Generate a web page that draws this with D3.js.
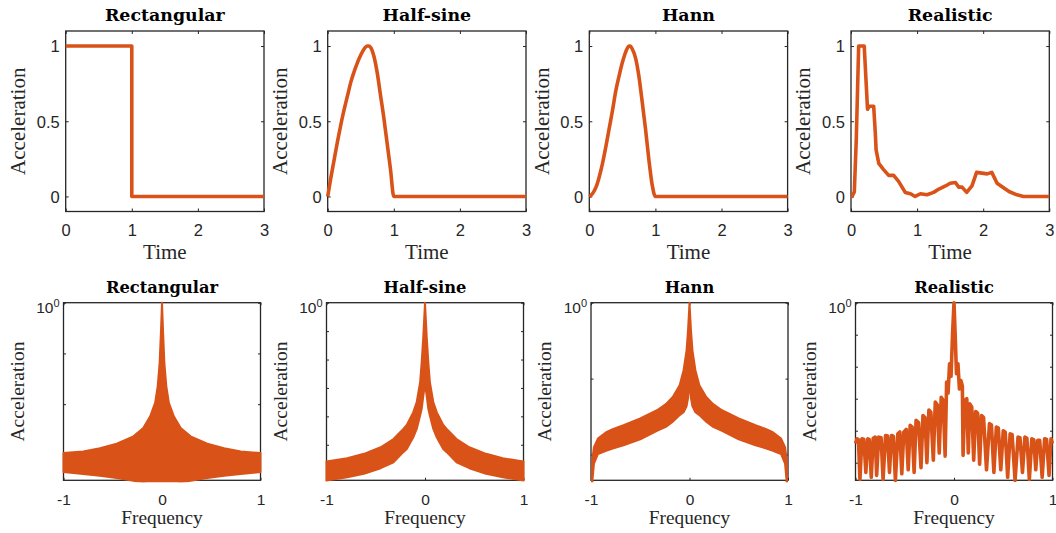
<!DOCTYPE html>
<html><head><meta charset="utf-8">
<script src="https://cdn.jsdelivr.net/npm/d3@7"></script>
<style>body{margin:0;background:#fff} svg{display:block}</style>
</head><body><svg id="c" width="1056" height="533"></svg>
<script>
// ---------------- data ----------------
const titles = ["Rectangular", "Half-sine", "Hann", "Realistic"];
const timeTicks = [0, 1, 2, 3];
const accTicks = [0, 0.5, 1];
const freqTicks = [-1, 0, 1];
const logTopLabel = ["10", "0"];
const timeLabel = "Time", freqLabel = "Frequency", accLabel = "Acceleration";

// time-domain pulses
const rectT = [0, 1, 1, 3];
const rectA = [1, 1, 0, 0];
const halfT = [0,0.05,0.1,0.15,0.2,0.25,0.3,0.35,0.4,0.45,0.5,0.55,0.6,0.62,0.65,0.7,0.75,0.8,0.85,0.9,0.95,1.0,3.0];
const halfA = [0,0.13,0.25,0.37,0.48,0.58,0.67,0.76,0.83,0.89,0.94,0.98,1.0,1.0,0.99,0.93,0.82,0.67,0.52,0.35,0.18,0,0];
const hannT = [0,0.05,0.1,0.15,0.2,0.25,0.3,0.35,0.4,0.45,0.5,0.55,0.6,0.62,0.65,0.7,0.75,0.8,0.85,0.9,0.95,1.0,3.0];
const hannA = [0,0.02,0.06,0.13,0.22,0.33,0.45,0.57,0.7,0.8,0.89,0.96,1.0,1.0,0.98,0.92,0.8,0.63,0.45,0.25,0.08,0,0];
const realT = [0,0.015,0.05,0.08,0.116,0.2,0.25,0.277,0.343,0.368,0.38,0.42,0.49,0.57,0.645,0.72,0.82,0.9,0.97,1.05,1.15,1.25,1.33,1.43,1.5,1.58,1.63,1.68,1.75,1.83,1.9,1.98,2.06,2.13,2.21,2.28,2.39,2.51,2.61,3.0];
const realA = [0,0,0.03,0.38,1.0,1.0,0.58,0.6,0.6,0.42,0.31,0.22,0.18,0.14,0.14,0.1,0.027,0.018,0,0.018,0.011,0.027,0.049,0.07,0.088,0.093,0.062,0.062,0.027,0.07,0.16,0.155,0.15,0.16,0.088,0.066,0.033,0.011,0,0];

// spectra: lower log limit (decades below 10^0)
const specDecades = [3.5, 6.25, 2.34, 5.55];

// Rectangular spectrum envelope (dense oscillation band)
const rectF  = [-1,-0.8,-0.63,-0.46,-0.29,-0.19,-0.12,-0.07,-0.044,-0.024,-0.01,0,0.01,0.024,0.044,0.07,0.12,0.19,0.29,0.46,0.63,0.8,1];
const rectUp = [1.09e-3,1.17e-3,1.36e-3,1.66e-3,2.32e-3,3.39e-3,5.75e-3,1.06e-2,2.25e-2,6.5e-2,0.297,1,0.297,6.5e-2,2.25e-2,1.06e-2,5.75e-3,3.39e-3,2.32e-3,1.66e-3,1.36e-3,1.17e-3,1.09e-3];
const rectLo = [4.6e-4,4.2e-4,3.9e-4,3.5e-4,3.1e-4,2.8e-4,2.6e-4,2.5e-4,2.5e-4,2.5e-4,2.5e-4,2.5e-4,2.5e-4,2.5e-4,2.5e-4,2.5e-4,2.6e-4,2.8e-4,3.1e-4,3.5e-4,3.9e-4,4.2e-4,4.6e-4];

// Half-sine spectrum envelope
const halfF  = [-1,-0.79,-0.62,-0.45,-0.32,-0.22,-0.185,-0.12,-0.084,-0.05,-0.034,-0.017,0,0.017,0.034,0.05,0.084,0.12,0.185,0.22,0.32,0.45,0.62,0.79,1];
const halfUp = [2.57e-6,3.36e-6,4.8e-6,8.2e-6,1.6e-5,3.6e-5,5.0e-5,1.38e-4,3.2e-4,1.56e-3,7.85e-3,0.0676,1,0.0676,7.85e-3,1.56e-3,3.2e-4,1.38e-4,5.0e-5,3.6e-5,1.6e-5,8.2e-6,4.8e-6,3.36e-6,2.57e-6];
const halfLo = [5.5e-7,7.2e-7,9.5e-7,1.5e-6,2.43e-6,5.5e-6,7.1e-6,1.8e-5,3.6e-5,1.05e-4,1.8e-4,5.3e-4,1.36e-3,5.3e-4,1.8e-4,1.05e-4,3.6e-5,1.8e-5,7.1e-6,5.5e-6,2.43e-6,1.5e-6,9.5e-7,7.2e-7,5.5e-7];

// Hann spectrum envelope
const hannF  = [-1,-0.985,-0.97,-0.93,-0.84,-0.78,-0.67,-0.5,-0.33,-0.24,-0.17,-0.1,-0.06,-0.03,-0.015,0,0.015,0.03,0.06,0.1,0.17,0.24,0.33,0.5,0.67,0.78,0.84,0.93,0.97,0.985,1];
const hannUp = [0.001,0.009,0.0125,0.0162,0.0199,0.0215,0.0243,0.0298,0.0383,0.046,0.0574,0.0817,0.129,0.236,0.432,1,0.432,0.236,0.129,0.0817,0.0574,0.046,0.0383,0.0298,0.0243,0.0215,0.0199,0.0162,0.0125,0.009,0.001];
const hannLo = [0.001,0.0046,0.0076,0.0101,0.0113,0.012,0.0132,0.0158,0.0205,0.0231,0.027,0.033,0.036,0.043,0.055,0.095,0.055,0.043,0.036,0.033,0.027,0.0231,0.0205,0.0158,0.0132,0.012,0.0113,0.0101,0.0076,0.0046,0.001];

// Realistic spectrum (peaks and troughs of the jagged trace)
const realF = [-1.0,-0.985,-0.97,-0.955,-0.935,-0.915,-0.895,-0.875,-0.86,-0.84,-0.82,-0.8,-0.785,-0.765,-0.74,-0.72,-0.695,-0.675,-0.655,-0.635,-0.615,-0.595,-0.57,-0.55,-0.53,-0.51,-0.485,-0.465,-0.445,-0.425,-0.405,-0.385,-0.36,-0.335,-0.315,-0.295,-0.275,-0.255,-0.235,-0.21,-0.19,-0.17,-0.15,-0.13,-0.11,-0.09,-0.075,-0.06,-0.045,-0.03,-0.015,0,
  0.012,0.025,0.04,0.055,0.07,0.085,0.092,0.11,0.13,0.145,0.16,0.18,0.2,0.22,0.24,0.26,0.28,0.3,0.33,0.36,0.38,0.405,0.43,0.45,0.475,0.5,0.52,0.545,0.57,0.59,0.62,0.65,0.67,0.695,0.72,0.74,0.765,0.79,0.81,0.83,0.85,0.87,0.895,0.92,0.94,0.965,0.985,1.0];
const realS = [4e-5,5.6e-5,5.2e-5,3e-6,5.6e-5,5.3e-5,5e-6,5.6e-5,5.3e-5,3.5e-6,5.8e-5,6.3e-5,4e-6,6.3e-5,6e-5,3e-6,7.1e-5,6.8e-5,5e-6,7.1e-5,6.6e-5,2.8e-6,8e-5,9.1e-5,4.5e-6,9e-5,1.1e-4,6e-6,1.47e-4,1.3e-4,5e-6,2.1e-4,1.8e-4,7e-6,3.0e-4,2.6e-4,1e-5,4.4e-4,3.8e-4,1.2e-5,7.9e-4,6.5e-4,2e-5,1.1e-3,9e-4,1.6e-5,3.3e-3,1.5e-3,0.0124,0.005,0.1,1,
  0.1,0.006,0.0124,0.002,3.7e-3,2.5e-3,1.7e-5,9e-4,1.0e-3,2e-5,6.9e-4,5.5e-4,1.2e-5,4e-4,3.5e-4,9e-6,3e-4,2.6e-4,6e-6,1.66e-4,1.5e-4,5e-6,1.3e-4,1.2e-4,6e-6,1.0e-4,9e-5,3.5e-6,8e-5,7.5e-5,2.8e-6,6.3e-5,6e-5,5e-6,6.3e-5,5.8e-5,3e-6,5.6e-5,5.2e-5,6e-6,5e-5,5e-5,3.5e-6,5.6e-5,5.3e-5,4e-6,5.6e-5,4e-5];

// ---------------- drawing ----------------
const svg = d3.select("#c");
const ORANGE = "#D95319", AX = "#262626";
const defs = svg.append("defs");

const topL = [65.7, 327.7, 589.3, 851], topW = 198.3, topTop = 31, topBot = 211.5;
const botL = [63.5, 326.5, 591, 855.5], botW = 197, botTop = 302.7, botBot = 480.3;

function clip(id, x, y, w, h) {
  defs.append("clipPath").attr("id", id).append("rect")
    .attr("x", x - 2).attr("y", y - 2).attr("width", w + 4).attr("height", h + 4);
  return "url(#" + id + ")";
}

function frame(g, x, y, xt, yt, tick, fs, xfmt, yfmt) {
  const [x0, x1] = x.range(), [y1, y0] = y.range();
  const styleAxis = a => {
    a.select(".domain").remove();
    a.selectAll("line").attr("stroke", AX).attr("stroke-width", 1);
    a.selectAll("text").attr("fill", AX).style("font-family", "'Liberation Sans', Arial, sans-serif").style("font-size", fs + "px");
  };
  const b = g.append("g").attr("transform", `translate(0,${y1})`)
    .call(d3.axisBottom(x).tickValues(xt).tickSize(-tick).tickFormat(xfmt));
  styleAxis(b);
  g.append("g").attr("transform", `translate(0,${y0})`)
    .call(d3.axisTop(x).tickValues(xt).tickSize(-tick).tickFormat("")).call(styleAxis);
  const l = g.append("g").attr("transform", `translate(${x0},0)`)
    .call(d3.axisLeft(y).tickValues(yt).tickSize(-tick).tickFormat(yfmt));
  styleAxis(l);
  g.append("g").attr("transform", `translate(${x1},0)`)
    .call(d3.axisRight(y).tickValues(yt).tickSize(-tick).tickFormat("")).call(styleAxis);
  g.append("rect").attr("x", x0).attr("y", y0).attr("width", x1 - x0).attr("height", y1 - y0)
    .attr("fill", "none").attr("stroke", AX).attr("stroke-width", 1.3);
  return {b, l};
}

// ---- top row: time-domain
const series = [[rectT, rectA], [halfT, halfA], [hannT, hannA], [realT, realA]];
const curves = [d3.curveLinear, d3.curveMonotoneX, d3.curveMonotoneX, d3.curveLinear];

series.forEach(([T, A], i) => {
  const g = svg.append("g");
  const x = d3.scaleLinear().domain([0, 3]).range([topL[i], topL[i] + topW]);
  const y = d3.scaleLinear().domain([-0.1, 1.1]).range([topBot, topTop]);
  const {b, l} = frame(g, x, y, timeTicks, accTicks, 3, 16.5, d => String(d), d => String(d));
  b.selectAll("text").attr("y", 24.2).attr("dy", null);
  l.selectAll("text").attr("x", -6).attr("dy", "0.36em");
  const line = d3.line().x((d, k) => x(T[k])).y(d => y(d)).curve(curves[i]);
  g.append("path").datum(A).attr("d", line).attr("fill", "none").attr("stroke", ORANGE)
    .attr("stroke-width", 3.6).attr("stroke-linejoin", "round")
    .attr("clip-path", clip("ct" + i, topL[i], topTop, topW, topBot - topTop));
  const cx = topL[i] + topW / 2;
  g.append("text").attr("x", cx).attr("y", 21).attr("text-anchor", "middle")
    .style("font-family", "'DejaVu Serif', serif").style("font-weight", "bold").style("font-size", "17.4px")
    .attr("fill", "#000").text(titles[i]);
  g.append("text").attr("x", cx).attr("y", 259.3).attr("text-anchor", "middle")
    .style("font-family", "'Liberation Serif', 'Times New Roman', serif").style("font-size", "21px")
    .attr("fill", AX).text(timeLabel);
  g.append("text").attr("transform", `translate(${topL[i] - 40.7},${(topTop + topBot) / 2}) rotate(-90)`)
    .attr("text-anchor", "middle")
    .style("font-family", "'Liberation Serif', 'Times New Roman', serif").style("font-size", "21px")
    .attr("fill", AX).text(accLabel);
});

// ---- bottom row: spectra
const bands = [[rectF, rectUp, rectLo], [halfF, halfUp, halfLo], [hannF, hannUp, hannLo]];

titles.forEach((t, i) => {
  const g = svg.append("g");
  const x = d3.scaleLinear().domain([-1, 1]).range([botL[i], botL[i] + botW]);
  const y = d3.scaleLog().domain([Math.pow(10, -specDecades[i]), 1]).range([botBot, botTop]);
  const decTicks = d3.range(0, -Math.floor(specDecades[i]) - 1, -1).map(e => Math.pow(10, e));
  const {b, l} = frame(g, x, y, freqTicks, decTicks, 2.5, 15.5, d => String(d), () => "");
  b.selectAll("text").attr("y", 24.7).attr("dy", null);
  const lab = g.append("text").attr("x", botL[i] - 4).attr("y", botTop + 10.5).attr("text-anchor", "end")
    .attr("fill", AX).style("font-family", "'Liberation Sans', Arial, sans-serif").style("font-size", "15.5px");
  lab.append("tspan").text(logTopLabel[0]);
  lab.append("tspan").attr("dy", -6.5).style("font-size", "11px").text(logTopLabel[1]);

  const cp = clip("cb" + i, botL[i], botTop, botW, botBot - botTop);
  if (i < 3) {
    const [F, U, L] = bands[i];
    const area = d3.area().x((d, k) => x(F[k])).y0((d, k) => y(L[k])).y1(d => y(d));
    g.append("path").datum(U).attr("d", area).attr("fill", ORANGE).attr("stroke", ORANGE)
      .attr("stroke-width", 2).attr("stroke-linejoin", "round").attr("clip-path", cp);
  } else {
    const line = d3.line().x((d, k) => x(realF[k])).y(d => y(d));
    g.append("path").datum(realS).attr("d", line).attr("fill", "none").attr("stroke", ORANGE)
      .attr("stroke-width", 3.6).attr("stroke-linejoin", "round").attr("clip-path", cp);
  }
  const cx = botL[i] + botW / 2;
  g.append("text").attr("x", cx).attr("y", 292.7).attr("text-anchor", "middle")
    .style("font-family", "'DejaVu Serif', serif").style("font-weight", "bold").style("font-size", "16.3px")
    .attr("fill", "#000").text(t);
  g.append("text").attr("x", cx).attr("y", 524).attr("text-anchor", "middle")
    .style("font-family", "'Liberation Serif', 'Times New Roman', serif").style("font-size", "19.3px")
    .attr("fill", AX).text(freqLabel);
  g.append("text").attr("transform", `translate(${botL[i] - 39.8},${(botTop + botBot) / 2}) rotate(-90)`)
    .attr("text-anchor", "middle")
    .style("font-family", "'Liberation Serif', 'Times New Roman', serif").style("font-size", "19.6px")
    .attr("fill", AX).text(accLabel);
});
</script></body></html>
